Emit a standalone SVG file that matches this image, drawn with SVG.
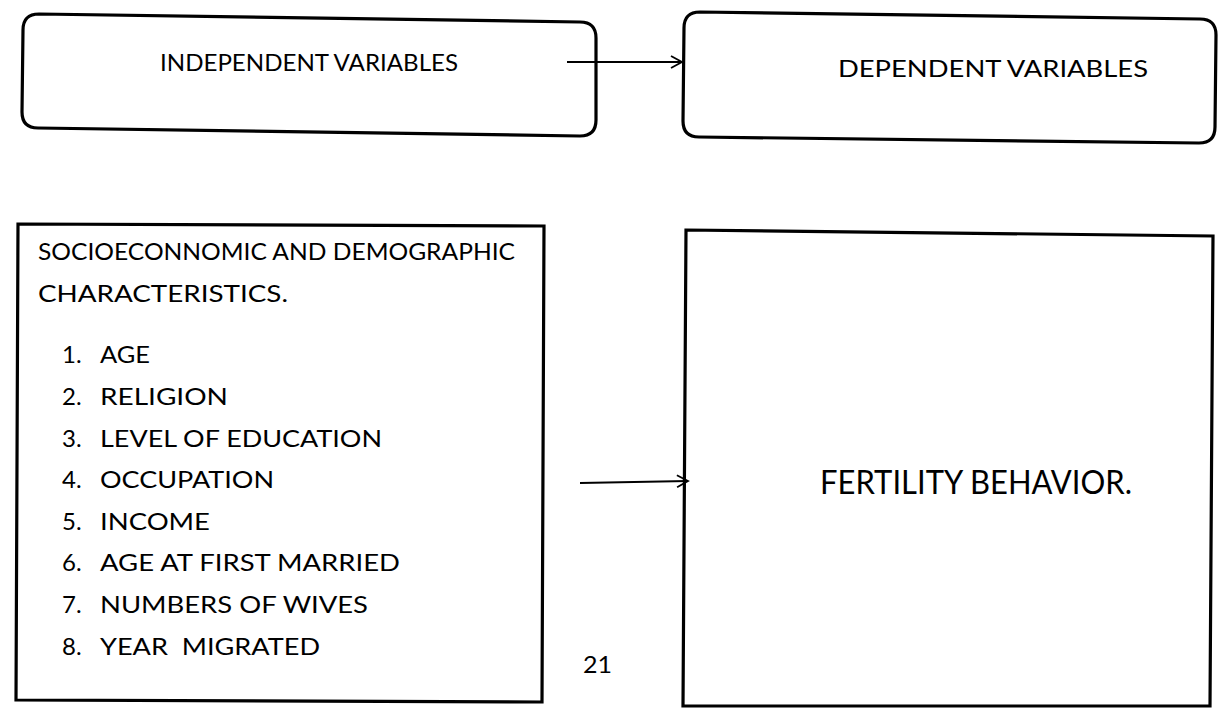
<svg xmlns="http://www.w3.org/2000/svg" width="1218" height="718" viewBox="0 0 1218 718">
<style>
.box{fill:none;stroke:#000;stroke-width:3.2}
.lbl{font-family:Lato,"Open Sans","Liberation Sans",sans-serif;font-size:24px;fill:#000}
.big{font-family:Lato,"Open Sans","Liberation Sans",sans-serif;font-size:32px;fill:#000}
.con{fill:none;stroke:#000;stroke-width:1.8}
</style>
<defs>
<marker id="ah" markerWidth="14" markerHeight="14" refX="12" refY="7" orient="auto" markerUnits="userSpaceOnUse">
<path d="M1,1 L12,7 L1,13" fill="none" stroke="#000" stroke-width="1.8"/>
</marker>
</defs>
<rect width="1218" height="718" fill="#fff"/>
<g id="independent">
<path class="box" d="M39,14 L580,22 Q596,22 596,38 L596,120 Q596,136 580,136 L38,128 Q22,128 22,112 L23,30 Q23,14 39,14 Z"/>
<text class="lbl" x="160" y="71" textLength="298" lengthAdjust="spacingAndGlyphs">INDEPENDENT VARIABLES</text>
</g>
<g id="dependent">
<path class="box" d="M700,12 L1200,19 Q1216,19 1216,35 L1215,127 Q1215,143 1199,143 L699,137 Q683,137 683,121 L684,28 Q684,12 700,12 Z"/>
<text class="lbl" x="838" y="77" textLength="310" lengthAdjust="spacingAndGlyphs">DEPENDENT VARIABLES</text>
</g>
<g id="characteristics">
<path class="box" d="M18,224 L544,226 L542,702 L16,700 Z"/>
<text class="lbl" x="38" y="260" textLength="477" lengthAdjust="spacingAndGlyphs">SOCIOECONNOMIC AND DEMOGRAPHIC</text>
<text class="lbl" x="38" y="302" textLength="250" lengthAdjust="spacingAndGlyphs">CHARACTERISTICS.</text>
<text class="lbl" x="62" y="363">1.</text><text class="lbl" x="100" y="363" textLength="50" lengthAdjust="spacingAndGlyphs">AGE</text>
<text class="lbl" x="62" y="405">2.</text><text class="lbl" x="100" y="405" textLength="128" lengthAdjust="spacingAndGlyphs">RELIGION</text>
<text class="lbl" x="62" y="447">3.</text><text class="lbl" x="100" y="447" textLength="282" lengthAdjust="spacingAndGlyphs">LEVEL OF EDUCATION</text>
<text class="lbl" x="62" y="488">4.</text><text class="lbl" x="100" y="488" textLength="174" lengthAdjust="spacingAndGlyphs">OCCUPATION</text>
<text class="lbl" x="62" y="530">5.</text><text class="lbl" x="100" y="530" textLength="110" lengthAdjust="spacingAndGlyphs">INCOME</text>
<text class="lbl" x="62" y="571">6.</text><text class="lbl" x="100" y="571" textLength="300" lengthAdjust="spacingAndGlyphs">AGE AT FIRST MARRIED</text>
<text class="lbl" x="62" y="613">7.</text><text class="lbl" x="100" y="613" textLength="268" lengthAdjust="spacingAndGlyphs">NUMBERS OF WIVES</text>
<text class="lbl" x="62" y="655">8.</text><text class="lbl" x="100" y="655" xml:space="preserve" textLength="220" lengthAdjust="spacingAndGlyphs">YEAR  MIGRATED</text>
</g>
<g id="fertility">
<path class="box" d="M686,230 L1213,236 L1210,706 L683,706 Z"/>
<text class="big" x="820" y="494" textLength="312" lengthAdjust="spacingAndGlyphs">FERTILITY BEHAVIOR.</text>
</g>
<text class="lbl" x="583" y="673" textLength="29" lengthAdjust="spacingAndGlyphs">21</text>
<g id="connectors">
<line class="con" x1="567" y1="62" x2="682" y2="62" marker-end="url(#ah)"/>
<line class="con" x1="580" y1="483" x2="688" y2="481" marker-end="url(#ah)"/>
</g>
</svg>
